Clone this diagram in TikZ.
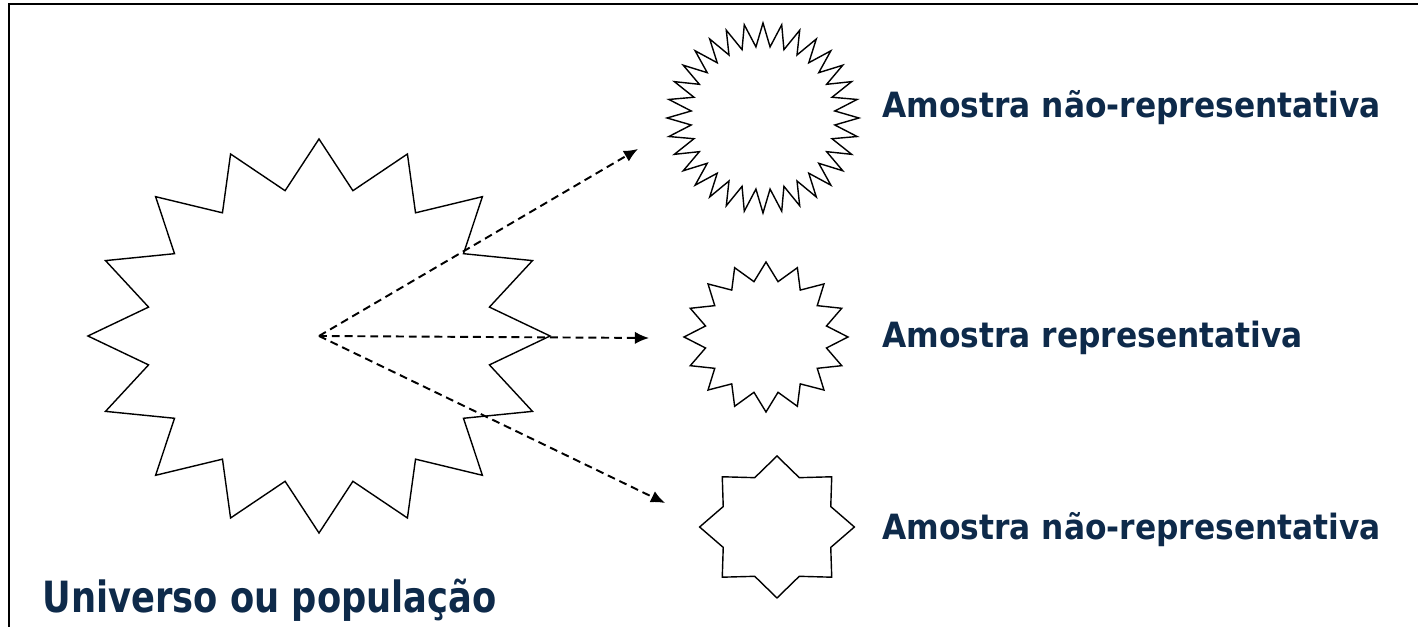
\documentclass[tikz,border=0pt]{standalone}
\usepackage{fontspec}
\usetikzlibrary{shapes.geometric,arrows.meta}
\newfontfamily\labelfont[FakeStretch=0.9]{DejaVu Sans}
\newfontfamily\titlefont[FakeStretch=0.82]{DejaVu Sans}
\definecolor{textnavy}{RGB}{14,42,74}
\tikzset{
  starline/.style={star, draw, line width=0.8pt, inner sep=0pt, outer sep=0pt, star point ratio=1.33, transform shape},
  sample/.style={dashed, dash pattern=on 4.5pt off 2.8pt, line width=1.1pt, -{Latex[length=8pt,width=7pt]}},
  lbl/.style={anchor=base west, inner sep=0pt, text=textnavy, font=\labelfont\bfseries\fontsize{19.8}{22}\selectfont}
}
\begin{document}
\begin{tikzpicture}
  \useasboundingbox (0,0) rectangle (28.36,12.54);
  \draw[line width=1.1pt] (0.18,0) |- (28.36,12.46);

  \begin{scope}[shift={(6.38,5.82)}, xscale=1.173]
    \node[starline, star points=16, minimum size=7.88cm] (univ) at (0,0) {};
  \end{scope}

  \begin{scope}[shift={(15.26,10.18)}, xscale=1.01]
    \node[starline, star points=32, minimum size=3.8cm] (amostraA) at (0,0) {};
  \end{scope}

  \begin{scope}[shift={(15.32,5.80)}, xscale=1.093]
    \node[starline, star points=16, minimum size=3.0cm] (amostraB) at (0,0) {};
  \end{scope}

  \begin{scope}[shift={(15.54,2.0)}, xscale=1.09]
    \node[starline, star points=8, minimum size=2.84cm] (amostraC) at (0,0) {};
  \end{scope}

  \coordinate (endA) at (12.76,9.56);
  \coordinate (endB) at (12.98,5.78);
  \coordinate (endC) at (13.30,2.48);

  \draw[sample] (univ.center) -- (endA);
  \draw[sample] (univ.center) -- (endB);
  \draw[sample] (univ.center) -- (endC);

  % ラベル
  \node[lbl] (lblA) at (17.64,10.18) {Amostra não-representativa};
  \node[lbl] (lblB) at (17.64,5.58) {Amostra representativa};
  \node[lbl] (lblC) at (17.64,1.74) {Amostra não-representativa};
  \node[lbl, font=\titlefont\bfseries\fontsize{24.5}{28}\selectfont] (univlbl) at (0.84,0.28) {Universo ou população};
\end{tikzpicture}
\end{document}
